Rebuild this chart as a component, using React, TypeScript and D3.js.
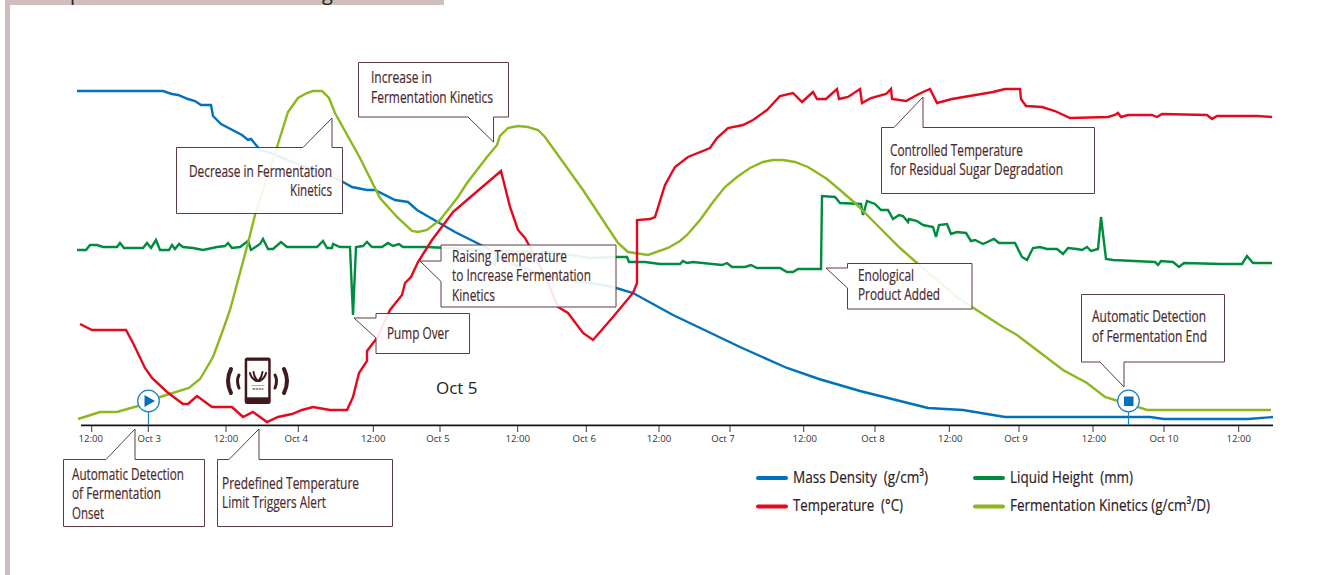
import React from "react";
import * as d3 from "d3";

// x = elapsed time in 10-minute samples, y = relative height above the axis (no y axis in the figure)
type Pt = [number, number];

const massDensity: Pt[] = [[-1,334],[85,334],[94,331],[100,330],[110,326],[117,324],[123,320],[133,320],[135,309],[143,301],[164,290],[170,285],[173,286],[183,274],[187,274],[222,260],[255,248],[265,243],[274,238],[289,235],[297,235],[317,225],[330,223],[339,215],[377,193],[397,183],[409,177],[429,163],[457,153],[487,145],[512,142],[535,138],[555,132],[595,110],[662,78],[709,57],[741,46],[782,34],[850,17],[885,15],[927,8],[1072,8],[1086,6],[1170,6],[1195,8]];

const temperature: Pt[] = [[2,101],[14,95],[48,95],[55,82],[67,57],[74,47],[89,33],[105,21],[110,21],[119,29],[134,18],[154,18],[165,8],[175,13],[189,3],[200,8],[214,11],[224,15],[235,18],[252,15],[269,15],[275,28],[281,52],[289,64],[289,74],[299,87],[312,115],[324,130],[327,142],[333,148],[340,163],[354,185],[375,213],[389,225],[423,254],[432,218],[440,195],[447,187],[452,178],[470,142],[480,118],[490,112],[505,92],[515,85],[535,108],[555,132],[559,142],[559,205],[572,206],[577,208],[587,240],[597,258],[610,268],[632,277],[639,287],[650,297],[665,300],[675,305],[689,315],[702,329],[715,332],[724,323],[735,333],[739,326],[748,326],[759,336],[761,326],[770,328],[782,336],[784,322],[793,327],[808,331],[813,336],[814,326],[828,324],[837,329],[845,333],[852,336],[859,322],[874,326],[915,333],[927,336],[942,336],[943,326],[948,319],[964,318],[977,314],[992,307],[1030,308],[1037,310],[1040,312],[1043,308],[1050,310],[1074,310],[1079,308],[1084,311],[1129,310],[1134,306],[1139,309],[1155,309],[1179,309],[1194,308]];

const liquidHeight: Pt[] = [[-1,175],[8,175],[12,180],[19,180],[25,178],[39,178],[42,182],[46,177],[65,177],[69,182],[73,177],[78,185],[82,175],[91,175],[94,180],[97,176],[101,181],[105,178],[115,177],[125,175],[139,178],[147,179],[150,182],[154,177],[162,178],[170,184],[173,175],[182,181],[185,186],[190,176],[195,176],[203,183],[209,178],[239,178],[245,184],[249,177],[254,177],[255,181],[262,178],[272,178],[275,110],[278,178],[285,179],[289,183],[294,178],[304,178],[310,182],[315,179],[321,181],[325,178],[349,178],[369,177],[402,175],[417,160],[419,175],[452,173],[462,169],[464,173],[487,171],[512,167],[539,168],[549,168],[551,163],[567,163],[582,161],[602,161],[605,164],[609,162],[615,163],[644,160],[649,162],[654,158],[667,158],[673,160],[679,157],[702,157],[709,153],[715,153],[720,156],[743,156],[744,229],[757,228],[762,222],[783,221],[785,210],[789,224],[797,221],[803,215],[810,215],[815,206],[821,210],[825,209],[830,203],[831,206],[839,204],[845,200],[855,198],[858,188],[861,200],[869,201],[873,191],[879,193],[888,192],[893,184],[897,185],[905,181],[916,186],[921,182],[937,182],[944,168],[949,165],[955,177],[962,178],[969,176],[979,176],[985,171],[990,177],[999,176],[1004,175],[1009,178],[1013,174],[1020,176],[1023,208],[1028,166],[1035,165],[1077,163],[1080,160],[1083,164],[1095,163],[1101,158],[1106,162],[1144,161],[1164,161],[1169,169],[1175,162],[1194,162]];

const fermentationKinetics: Pt[] = [[0,6],[22,13],[39,13],[60,19],[82,28],[111,37],[122,46],[128,56],[135,68],[145,95],[152,115],[170,182],[177,210],[199,278],[210,313],[220,327],[229,332],[235,334],[244,334],[251,327],[257,312],[282,267],[302,227],[319,208],[334,194],[340,193],[349,195],[362,205],[380,228],[389,242],[409,268],[419,280],[422,289],[430,297],[440,299],[450,298],[460,295],[467,288],[505,235],[540,182],[550,173],[570,170],[590,177],[602,184],[609,190],[622,205],[635,223],[647,238],[659,248],[672,257],[685,263],[695,265],[705,265],[717,263],[730,258],[749,246],[762,235],[777,222],[799,200],[822,177],[839,162],[880,127],[894,118],[925,98],[939,90],[985,55],[1009,42],[1027,28],[1040,24],[1060,18],[1069,15],[1193,15]];

const tickSamples = [13.7,70.3,148,220.3,295.3,362,439.7,508.3,581,652,725.7,797,871.3,941,1015,1086,1160.7];
const tickLabels = ["12:00","Oct 3","12:00","Oct 4","12:00","Oct 5","12:00","Oct 6","12:00","Oct 7","12:00","Oct 8","12:00","Oct 9","12:00","Oct 10","12:00"];
const tickLabelNudge = [-1,1,0,-2,0,-2,0,-2,0,-7,1,-2,1,-3,1,0,0];

const legendNames = ["Mass Density  (g/cm³)","Temperature  (°C)","Liquid Height  (mm)","Fermentation Kinetics (g/cm³/D)"];

const x = d3.scaleLinear().domain([0, 1194]).range([78, 1272]);
const y = d3.scaleLinear().domain([0, 350]).range([425, 75]);
const line = d3.line<Pt>().x(d => x(d[0])).y(d => y(d[1])).curve(d3.curveLinear);

const BLUE = "#0071bb", RED = "#e5091e", GREEN = "#008c3f", LIME = "#8cb81e";
const INK = "#4c2a2d", EDGE = "#5c3d3f";
const SANS = "'Open Sans', sans-serif";

const seriesStyles: [Pt[], string][] = [
  [massDensity, BLUE],
  [liquidHeight, GREEN],
  [fermentationKinetics, LIME],
  [temperature, RED],
];

type Line = [string, number, number, number]; // text, x, baseline, width
type Callout = { d: string; lines: Line[] };
const callouts: Callout[] = [
  { d: "M176.5 147.5H303L332 118V147.5H342.5V213.5H176.5Z",
    lines: [["Decrease in Fermentation",189,177,143],["Kinetics",290,196,42]] },
  { d: "M358.5 62.5H508.5V117H493.5V142L468 117H358.5Z",
    lines: [["Increase in",371,83,61],["Fermentation Kinetics",371,103,122]] },
  { d: "M441 245H616V307H441V281.5L420 261H441Z",
    lines: [["Raising Temperature",452,262,115],["to Increase Fermentation",452,281,139],["Kinetics",452,301,43]] },
  { d: "M376 313.5H469.5V353.5H376V338L354 318H376Z",
    lines: [["Pump Over",387,339,62]] },
  { d: "M63.5 459.5H106L135 429V459.5H204.5V526.5H63.5Z",
    lines: [["Automatic Detection",72,480,112],["of Fermentation",72,499,89],["Onset",72,519,32]] },
  { d: "M217.5 459.5H229L259 429V459.5H392.5V526.5H217.5Z",
    lines: [["Predefined Temperature",222,489,137],["Limit Triggers Alert",222,508,104]] },
  { d: "M881.5 127.5H894L923 97V127.5H1094.5V193.5H881.5Z",
    lines: [["Controlled Temperature",890,156,133],["for Residual Sugar Degradation",890,175,173]] },
  { d: "M847.5 263.5H972V309H847.5V288L826 268H847.5Z",
    lines: [["Enological",858,281,56],["Product Added",858,300,82]] },
  { d: "M1081.5 294.5H1224.5V362H1124V387L1100 362H1081.5Z",
    lines: [["Automatic Detection",1092,322,114],["of Fermentation End",1092,342,115]] },
];

const legendLayout: [number, number, number, number, string][] = [
  [758, 478, 793, 135, BLUE],
  [758, 506.5, 793, 110, RED],
  [975, 478, 1010, 123, GREEN],
  [975, 506.5, 1010, 200, LIME],
];

const Squeezed = ({ t, px, py, w, size, fill }: { t: string; px: number; py: number; w: number; size: number; fill: string }) => (
  <text x={px} y={py} textLength={w} lengthAdjust="spacingAndGlyphs" fontFamily={SANS} fontSize={size} fill={fill} stroke={fill} strokeWidth={0.2} xmlSpace="preserve">{t}</text>
);

const Phone = () => (
  <g>
    <rect x={244.7} y={357.5} width={26} height={46.5} rx={2.5} fill="#3f1a1d" />
    <rect x={247.2} y={360.8} width={21} height={36.5} fill="#fff" />
    <g fill="none" stroke="#3f1a1d" strokeLinecap="round">
      <path d="M231 369Q225 381 231 393" strokeWidth={4} />
      <path d="M284 369Q290 381 284 393" strokeWidth={4} />
      <path d="M239 375Q236 381 239 388" strokeWidth={3} />
      <path d="M275 375Q278 381 275 388" strokeWidth={3} />
      <path d="M250 373Q251 378 256 381M253.500 372Q254 377 257.500 381M266 373Q265 378 260 381M262.500 372Q262 377 258.500 381" strokeWidth={2} />
      <path d="M252 385.500H264" stroke="#a88" strokeWidth={0.8} />
      <path d="M253 389H263" strokeWidth={1} strokeDasharray="1.500 1.500" />
    </g>
  </g>
);

export default function App() {
  const axisY = y(0);
  return (
    <svg width={1339} height={575} style={{ position: "absolute", left: 0, top: 0, background: "#fff" }}>
      <rect x={5} y={0} width={5} height={575} fill="#cdbdbd" />
      <rect x={5} y={0} width={439} height={5} fill="#cdbdbd" />
      <text x={70} y={0} fontFamily={SANS} fontSize={20} fill="#222">p</text>
      <text x={322} y={0} fontFamily={SANS} fontSize={20} fill="#222">g</text>

      {seriesStyles.map(([data, color], i) => (
        <path key={i} d={line(data) ?? ""} fill="none" stroke={color} strokeWidth={2.4} strokeLinejoin="miter" strokeMiterlimit={3} />
      ))}

      <line x1={81} x2={1273} y1={axisY - 0.5} y2={axisY - 0.5} stroke="#bbb" strokeWidth={1} />
      <line x1={81} x2={1273} y1={axisY + 0.5} y2={axisY + 0.5} stroke="#111" strokeWidth={1.4} />
      {tickSamples.map((s, i) => (
        <g key={i}>
          <line x1={x(s)} x2={x(s)} y1={axisY} y2={axisY + 7} stroke="#222" strokeWidth={0.9} />
          <text x={x(s) + tickLabelNudge[i]} y={442} textAnchor="middle" fontFamily={SANS} fontSize={9.6} fill="#333">{tickLabels[i]}</text>
        </g>
      ))}

      <text x={436} y={394} fontFamily={SANS} fontSize={17} fill="#222">Oct 5</text>

      {callouts.map((c, i) => (
        <g key={i}>
          <path d={c.d} fill="#fff" fillOpacity={0.9} stroke={EDGE} strokeWidth={1} />
          {c.lines.map(([t, px, py, w], j) => (
            <Squeezed key={j} t={t} px={px} py={py} w={w} size={15.5} fill={INK} />
          ))}
        </g>
      ))}

      <Phone />

      <line x1={148.5} x2={148.5} y1={412} y2={425} stroke="#1a80c4" strokeWidth={1.2} />
      <circle cx={148.5} cy={401} r={10.8} fill="#fff" stroke="#1a80c4" strokeWidth={1.3} />
      <path d="M144.500 395L155 401L144.500 407Z" fill={BLUE} />
      <line x1={1128.5} x2={1128.5} y1={412} y2={425} stroke="#1a80c4" strokeWidth={1.2} />
      <circle cx={1128.5} cy={401} r={10.8} fill="#fff" stroke="#1a80c4" strokeWidth={1.3} />
      <rect x={1124} y={396.5} width={9.5} height={9.5} fill={BLUE} />

      {legendLayout.map(([lx, ly, tx, w, color], i) => (
        <g key={i}>
          <line x1={lx} x2={lx + 28} y1={ly} y2={ly} stroke={color} strokeWidth={4} strokeLinecap="round" />
          <Squeezed t={legendNames[i]} px={tx} py={ly + 4.5} w={w} size={17} fill="#2b2024" />
        </g>
      ))}
    </svg>
  );
}
